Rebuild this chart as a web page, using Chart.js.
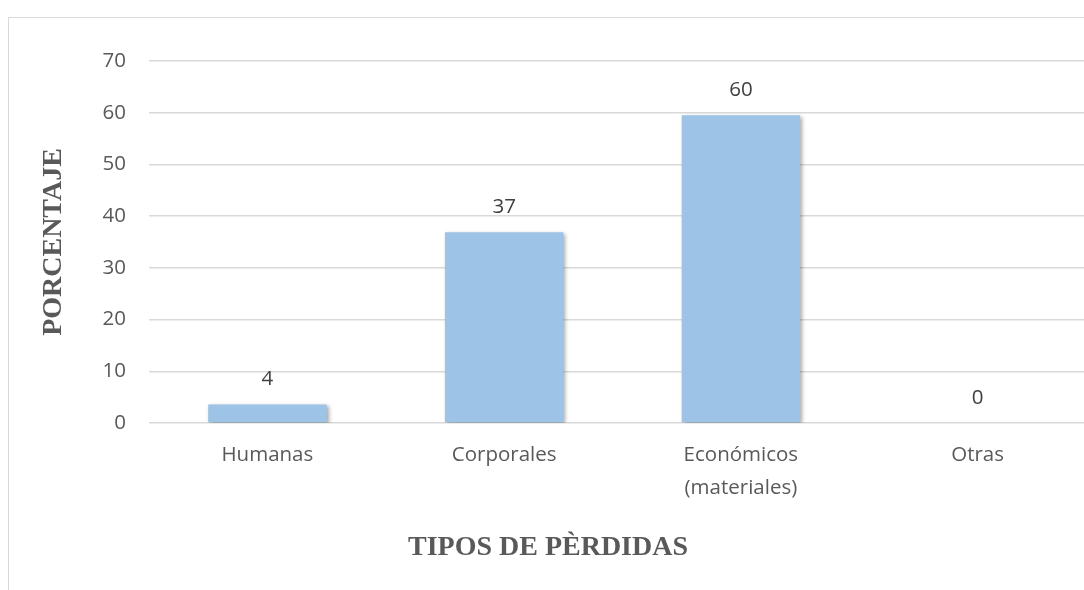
<!DOCTYPE html>
<html lang="es">
<head>
    <meta charset="utf-8" />
    <title>Tipos de pérdidas</title>
    <script src="https://cdn.jsdelivr.net/npm/chart.js"></script>
    <style>
        html, body { margin: 0; padding: 0; background: #fff; overflow: hidden; }
        #frame {
            position: absolute; left: 8px; top: 17px; width: 1200px; height: 700px;
            border: 1.5px solid #d9d9d9; box-sizing: border-box;
        }
        #chart { position: absolute; left: 0; top: 0; }
    </style>
</head>
<body>
    <div id="frame"></div>
    <canvas id="chart" width="1110" height="590"></canvas>

    <script>
        // datos
        const categorias = ['Humanas', 'Corporales', ['Económicos', '(materiales)'], 'Otras'];
        const porcentajes = [3.6, 36.9, 59.5, 0];
        const ticksY = { min: 0, max: 70, step: 10 };
        const tituloX = 'TIPOS DE PÈRDIDAS';

        const gris = '#595959';

        // sombra suave de las barras, etiqueta con el valor y titulo del eje X
        const barrasPlugin = {
            id: 'barras',
            beforeDatasetsDraw(chart) {
                const ctx = chart.ctx;
                ctx.save();
                ctx.shadowColor = 'rgba(0,0,0,0.35)';
                ctx.shadowBlur = 4;
                ctx.shadowOffsetX = 2;
                ctx.shadowOffsetY = 2;
            },
            afterDatasetsDraw(chart) {
                const ctx = chart.ctx;
                ctx.restore();
                const meta = chart.getDatasetMeta(0);
                ctx.save();
                ctx.font = '20.5px "Open Sans"';
                ctx.fillStyle = '#404040';
                ctx.textAlign = 'center';
                ctx.textBaseline = 'middle';
                meta.data.forEach(function (bar, i) {
                    ctx.fillText(String(Math.round(porcentajes[i])), bar.x, bar.y - 25);
                });
                ctx.restore();
            },
            afterDraw(chart) {
                // el titulo va centrado en todo el marco, no en el area del grafico
                const ctx = chart.ctx;
                ctx.save();
                ctx.font = 'bold 28px "Liberation Serif"';
                ctx.fillStyle = gris;
                ctx.textAlign = 'center';
                ctx.textBaseline = 'middle';
                ctx.fillText(tituloX, 548, 548);
                ctx.restore();
            }
        };

        new Chart(document.getElementById('chart'), {
            type: 'bar',
            data: {
                labels: categorias,
                datasets: [{
                    data: porcentajes,
                    backgroundColor: '#9dc3e6',
                    borderWidth: 0,
                    categoryPercentage: 1,
                    barPercentage: 0.5
                }]
            },
            options: {
                responsive: false,
                animation: false,
                layout: { padding: { top: 61, right: 14, bottom: 0, left: 0 } },
                plugins: {
                    legend: { display: false },
                    tooltip: { enabled: false }
                },
                scales: {
                    x: {
                        grid: { display: false },
                        border: { display: false },
                        ticks: {
                            color: gris,
                            padding: 8,
                            maxRotation: 0,
                            font: { family: 'Open Sans', size: 20.5, lineHeight: 1.6 }
                        },
                        afterFit(scale) { scale.height = 167; }
                    },
                    y: {
                        min: ticksY.min,
                        max: ticksY.max,
                        grid: { color: '#d9d9d9', lineWidth: 1.5, drawTicks: false },
                        border: { display: false },
                        ticks: {
                            stepSize: ticksY.step,
                            color: gris,
                            padding: 23,
                            font: { family: 'Open Sans', size: 20.5 }
                        },
                        title: {
                            display: true,
                            text: 'PORCENTAJE',
                            color: gris,
                            padding: { top: 37, bottom: 0 },
                            font: { family: 'Liberation Serif', size: 28, weight: 'bold' }
                        },
                        afterFit(scale) { scale.width = 149; }
                    }
                }
            },
            plugins: [barrasPlugin]
        });
    </script>
</body>
</html>
